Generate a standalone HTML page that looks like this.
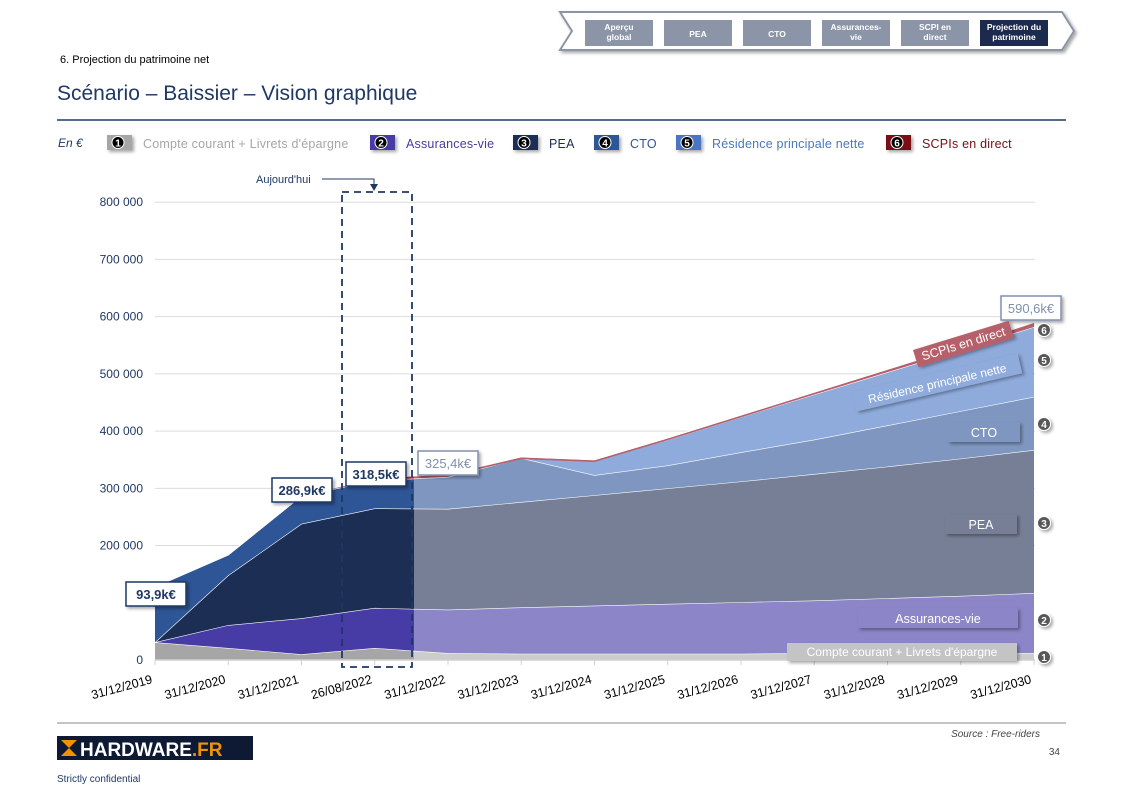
<!DOCTYPE html>
<html><head><meta charset="utf-8"><style>
body{margin:0;width:1123px;height:794px;overflow:hidden;background:#fff;font-family:"Liberation Sans",sans-serif}
svg{display:block}
</style></head><body>
<svg id="s" width="1123" height="794" xmlns="http://www.w3.org/2000/svg" font-family="Liberation Sans, sans-serif">
<defs>
<filter id="sh" x="-20%" y="-20%" width="150%" height="160%"><feDropShadow dx="2" dy="2" stdDeviation="1.5" flood-color="#000" flood-opacity="0.35"/></filter>
<clipPath id="cl"><rect x="0" y="0" width="414" height="794"/></clipPath>
<clipPath id="cr"><rect x="414" y="0" width="800" height="794"/></clipPath>
</defs>
<g>
<polygon points="560,12 1062,12 1074,31 1062,50 560,50 572,31" fill="#fff" stroke="#8c95a8" stroke-width="2" filter="url(#sh)"/>
</g>
<g id="nav"></g>
<text x="60" y="63" font-size="11" fill="#000">6. Projection du patrimoine net</text>
<text x="57" y="100" font-size="21" fill="#1f3864">Scénario – Baissier – Vision graphique</text>
<line x1="57" y1="120" x2="1066" y2="120" stroke="#1f3864" stroke-width="1.5"/>
<text x="58" y="147" font-size="12" font-style="italic" fill="#1f3864">En €</text>
<g id="legend"></g>
<g id="chart"></g>
<line x1="57" y1="723" x2="1066" y2="723" stroke="#888" stroke-width="1"/>
<g>
<rect x="57" y="736" width="196" height="24" fill="#0e1a33"/>
<rect x="61" y="740" width="16" height="16" fill="#f39200"/>
<polygon points="61,740 69,748 61,756" fill="#0e1a33"/><polygon points="77,740 69,748 77,756" fill="#0e1a33"/>
<text x="80" y="756" font-size="19" font-weight="bold" fill="#fff">HARDWARE<tspan fill="#f39200">.FR</tspan></text>
</g>
<text x="57" y="782" font-size="10" fill="#1f3864">Strictly confidential</text>
<text x="1040" y="737" font-size="10" font-style="italic" fill="#444" text-anchor="end">Source : Free-riders</text>
<text x="1060" y="755" font-size="10" fill="#444" text-anchor="end">34</text>
</svg>
<script>
const categories=["31/12/2019","31/12/2020","31/12/2021","26/08/2022","31/12/2022","31/12/2023","31/12/2024","31/12/2025","31/12/2026","31/12/2027","31/12/2028","31/12/2029","31/12/2030"];
const livrets=[31,21,10,21,12,11,11,11,11,12,12,12,12];
const assurances=[0,40,63,70,76,81,84,87,90,92,96,100,105];
const pea=[0,87,165,174,176,184,193,202,211,221,230,240,250];
const cto=[97,36,49,49,56,77,35,40,51,60,72,83,93];
const residence=[0,0,0,0,0,0,25,45,62,79,93,107,122];
const scpi=[0,0,0,4,5,2,2,3,3,4,5,6,8];
const yTicks=[0,200,300,400,500,600,700,800];
const yTickLabels=["0","200 000","300 000","400 000","500 000","600 000","700 000","800 000"];
const navLabels=[["Aperçu","global"],["PEA"],["CTO"],["Assurances-","vie"],["SCPI en","direct"],["Projection du","patrimoine"]];

const NS="http://www.w3.org/2000/svg";
function mk(t,a,p){const e=document.createElementNS(NS,t);for(const k in a)e.setAttribute(k,a[k]);p.appendChild(e);return e;}
const X=i=>155+i*73.25;
const Y=v=>660-v*0.57225;

const nav=document.getElementById('nav');
navLabels.forEach((l,i)=>{
  const x=585+i*79;
  const g=mk('g',{},nav);
  
  
  mk('rect',{x:x,y:20,width:68,height:26,fill:i==5?'#1c2a4d':'#8c95a8'},g);
  l.forEach((s,j)=>{const t=mk('text',{x:x+34,y:l.length==1?37:30+j*10,'font-size':'8.5','font-weight':'bold',fill:'#fff','text-anchor':'middle'},g);t.textContent=s;});
});

const leg=document.getElementById('legend');
const legItems=[["Compte courant + Livrets d'épargne","#a6a6a6","#a6a6a6",107],["Assurances-vie","#473ba6","#473ba6",370],["PEA","#1c2e54","#1c2e54",513],["CTO","#2e5596","#2e5596",594],["Résidence principale nette","#4a76c4","#4a76c4",676],["SCPIs en direct","#7a0c18","#7a0c18",886]];
legItems.forEach((it,i)=>{
  const g=mk('g',{},leg);
  
  
  mk('rect',{x:it[3],y:135,width:25,height:15,fill:it[1],filter:'url(#sh)'},g);
  mk('circle',{cx:it[3]+11,cy:142.5,r:6,fill:'#000',stroke:'#fff','stroke-width':1},g);
  const n=mk('text',{x:it[3]+11,y:146.5,'font-size':'10','font-weight':'bold',fill:'#fff','text-anchor':'middle'},g);n.textContent=i+1;
  const t=mk('text',{x:it[3]+36,y:148,'font-size':'12.5',fill:it[2],'letter-spacing':'0.2'},g);t.textContent=it[0];
});

const ch=document.getElementById('chart');
yTicks.forEach((v,i)=>{
  if(v>0){const l=mk('line',{x1:155,x2:1035,y1:Y(v),y2:Y(v),stroke:'#dcdcdc','stroke-width':1},ch);}
  const t=mk('text',{x:143,y:Y(v)+4,'font-size':'12',fill:'#1f3864','text-anchor':'end'},ch);
  
  
  t.textContent=yTickLabels[i];
});
const series=[livrets,assurances,pea,cto,residence,scpi];
const solid=['#a6a6a6','#473ba6','#1c2e54','#2e5596','#4a76c4','#a52a3a'];
const light=['#cccccc','#8c86c8','#767f96','#7f97c0','#8fabdb','#b5606b'];
const names=['livrets','assurances-vie','pea','cto','residence','scpi'];
const cum=[];let base=categories.map(()=>0);
series.forEach(s=>{const top=s.map((v,i)=>base[i]+v);cum.push([base,top]);base=top;});
[['cl',solid],['cr',light]].forEach(([clip,cols])=>{
  const g=mk('g',{'clip-path':'url(#'+clip+')'},ch);
  cum.forEach(([b,t],k)=>{
    let d='M'+t.map((v,i)=>X(i)+','+Y(v)).join(' L');
    for(let i=b.length-1;i>=0;i--)d+=' L'+X(i)+','+Y(b[i]);
    const p=mk('path',{d:d+'Z',fill:cols[k]},g);
    
    
    mk('path',{d:'M'+t.map((v,i)=>X(i)+','+Y(v)).join(' L'),fill:'none',stroke:'#fff','stroke-width':1.2},g);
  });
  const t=cum[5][1];
  const first=scpi.findIndex(v=>v>0);
  const pts=[];for(let i=first;i<t.length;i++)pts.push(X(i)+','+(Y(t[i])+1.5));
  mk('path',{d:'M'+pts.join(' L'),fill:'none',stroke:cols[5],'stroke-width':1.5},g);
});
mk('line',{x1:155,x2:1035,y1:660,y2:660,stroke:'#d0d0d0','stroke-width':1.5},ch);
categories.forEach((c,i)=>{
  mk('line',{x1:X(i),x2:X(i),y1:660,y2:665,stroke:'#d0d0d0'},ch);
  const t=mk('text',{x:X(i)-2,y:683,'font-size':'12.5',fill:'#000','text-anchor':'end',transform:'rotate(-15 '+(X(i)-2)+' 683)'},ch);
  
  
  t.textContent=c;
});
const tb=mk('rect',{x:342,y:192,width:70,height:475,fill:'none',stroke:'#1f3864','stroke-width':1.8,'stroke-dasharray':'7,5'},ch);

const at=mk('text',{x:256,y:183,'font-size':'11',fill:'#1f3864'},ch);at.textContent="Aujourd'hui";

mk('path',{d:'M322,179 L374,179 L374,186',fill:'none',stroke:'#1f3864','stroke-width':1},ch);
mk('polygon',{points:'370,184 378,184 374,191',fill:'#1f3864'},ch);
[[126,582,"93,9k€",'#1f3864'],[272,478,"286,9k€",'#1f3864'],[346,462,"318,5k€",'#1f3864'],[418,451,"325,4k€",'#8090b0'],[1001,296,"590,6k€",'#8090b0']].forEach(b=>{
  const g=mk('g',{},ch);
  mk('rect',{x:b[0],y:b[1],width:60,height:24,fill:'#fff',stroke:b[3],'stroke-width':1.5,filter:'url(#sh)'},g);
  const t=mk('text',{x:b[0]+30,y:b[1]+17,'font-size':'13','font-weight':b[3]=='#1f3864'?'bold':'normal',fill:b[3],'text-anchor':'middle'},g);t.textContent=b[2];
});
function tag(x,y,w,h,txt,fill,col,rot,fs){const g=mk('g',{transform:'rotate('+rot+' '+x+' '+y+')'},ch);
  
  mk('rect',{x:x,y:y,width:w,height:h,fill:fill,filter:'url(#sh)'},g);
  const t=mk('text',{x:x+w/2,y:y+h-5,'font-size':fs||12,fill:col,'text-anchor':'middle'},g);t.textContent=txt;}
tag(787,643,230,18,"Compte courant + Livrets d'épargne",'#c4c4c4','#fff',0,12);
tag(858,608,160,20,"Assurances-vie",'#8c86c8','#fff',0,12.5);
tag(945,514,72,20,"PEA",'#767f96','#fff',0,12.5);
tag(948,422,72,20,"CTO",'#7f97c0','#fff',0,12.5);
tag(852,392,170,20,"Résidence principale nette",'#8fabdb','#fff',-13,12);
tag(913,350,100,18,"SCPIs en direct",'#b5606b','#fff',-17,12.5);
[[1044,657,1],[1044,620,2],[1044,523,3],[1044,424,4],[1044,360,5],[1044,330,6]].forEach(m=>{
  const g=mk('g',{},ch);
  mk('circle',{cx:m[0],cy:m[1],r:6.5,fill:'#595959',stroke:'#fff','stroke-width':1,filter:'url(#sh)'},g);
  const t=mk('text',{x:m[0],y:m[1]+4,'font-size':'10','font-weight':'bold',fill:'#fff','text-anchor':'middle'},g);t.textContent=m[2];
});
</script>
</body></html>
